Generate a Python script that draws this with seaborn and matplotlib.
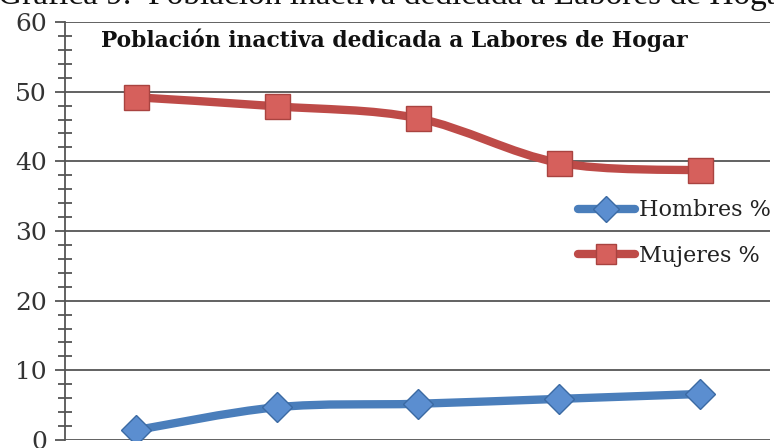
import matplotlib
matplotlib.use("Agg")
import matplotlib.pyplot as plt
from matplotlib.path import Path
from matplotlib.patches import PathPatch
from matplotlib.lines import Line2D
from matplotlib.ticker import MultipleLocator
import seaborn as sns
import pandas as pd
import numpy as np

# values (x labels are cut off in the reference)
periodos = [1, 2, 3, 4, 5]
hombres = [1.4, 4.7, 5.2, 5.9, 6.6]
mujeres = [49.2, 47.9, 46.2, 39.8, 38.7]

azul_linea = "#4A7EBB"
azul_marca = "#5B8ED0"
rojo_linea = "#BE4B48"
rojo_marca = "#D6605C"

sns.set_style("white")
plt.rcParams['font.family'] = ['DejaVu Serif']

df = pd.DataFrame({'periodo': periodos, 'Hombres %': hombres, 'Mujeres %': mujeres})

fig = plt.figure(figsize=(7.74, 4.48), dpi=100)
ax = fig.add_axes([65 / 774, 8 / 448, 705 / 774, 418 / 448])


def curva_suave(xs, ys):
    # Excel-style smoothed line as cubic bezier segments
    pts = np.column_stack([xs, ys]).astype(float)
    verts = [pts[0]]
    codes = [Path.MOVETO]
    n = len(pts)
    for i in range(n - 1):
        p0 = pts[i - 1] if i > 0 else pts[i]
        p1 = pts[i]
        p2 = pts[i + 1]
        p3 = pts[i + 2] if i + 2 < n else pts[i + 1]
        c1 = p1 + (p2 - p0) / 6
        c2 = p2 - (p3 - p1) / 6
        verts += [c1, c2, p2]
        codes += [Path.CURVE4] * 3
    return Path(verts, codes)


for col, lc in [('Hombres %', azul_linea), ('Mujeres %', rojo_linea)]:
    ax.add_patch(PathPatch(curva_suave(df['periodo'], df[col]), fill=False,
                           edgecolor=lc, lw=6, capstyle='round', joinstyle='round', zorder=3))

sns.lineplot(data=df, x='periodo', y='Hombres %', ax=ax, lw=0, marker='D',
             markersize=15, markerfacecolor=azul_marca, markeredgecolor="#3B6AA3",
             markeredgewidth=1, zorder=4)
sns.lineplot(data=df, x='periodo', y='Mujeres %', ax=ax, lw=0, marker='s',
             markersize=18, markerfacecolor=rojo_marca, markeredgecolor="#A94340",
             markeredgewidth=1, zorder=4)

ax.set_xlim(0.5, 5.5)
ax.set_ylim(0, 60)
ax.yaxis.set_major_locator(MultipleLocator(10))
ax.yaxis.set_minor_locator(MultipleLocator(2))
ax.set_xticks([])
ax.set_xlabel('')
ax.set_ylabel('')
ax.grid(axis='y', which='major', color='#555555', lw=1.3)
for s in ['top', 'right', 'bottom']:
    ax.spines[s].set_visible(False)
ax.spines['left'].set_color('#555555')
ax.spines['left'].set_linewidth(1.3)
ax.tick_params(axis='y', which='major', direction='out', length=7, width=1.3,
               color='#555555', labelsize=18, labelcolor='#333333', pad=6, left=True)
ax.tick_params(axis='y', which='minor', direction='inout', length=10, width=1.3,
               color='#555555', left=True)
ax.set_axisbelow(True)

ax.text(0.467, 0.985, 'Población inactiva dedicada a Labores de Hogar', transform=ax.transAxes,
        ha='center', va='top', fontsize=15.7, fontweight='bold', color='#111111')

handles = [
    Line2D([], [], color=azul_linea, lw=6, marker='D', markersize=13,
           markerfacecolor=azul_marca, markeredgecolor="#3B6AA3", solid_capstyle='round'),
    Line2D([], [], color=rojo_linea, lw=6, marker='s', markersize=15,
           markerfacecolor=rojo_marca, markeredgecolor="#A94340", solid_capstyle='round'),
]
ax.legend(handles, ['Hombres %', 'Mujeres %'], loc='center left',
          bbox_to_anchor=((578 - 65) / 705, 0.495), frameon=False, fontsize=16,
          handlelength=2.55, handletextpad=0.2, labelspacing=1.05,
          borderpad=0, borderaxespad=0, labelcolor='#222222')

fig.text(-0.003, 1 - 4 / 448, 'Gráfica 9.  Población inactiva dedicada a Labores de Hogar',
         ha='left', va='baseline', fontsize=24, color='#111111', family='Liberation Serif')

fig.savefig('out.png', dpi=100)
